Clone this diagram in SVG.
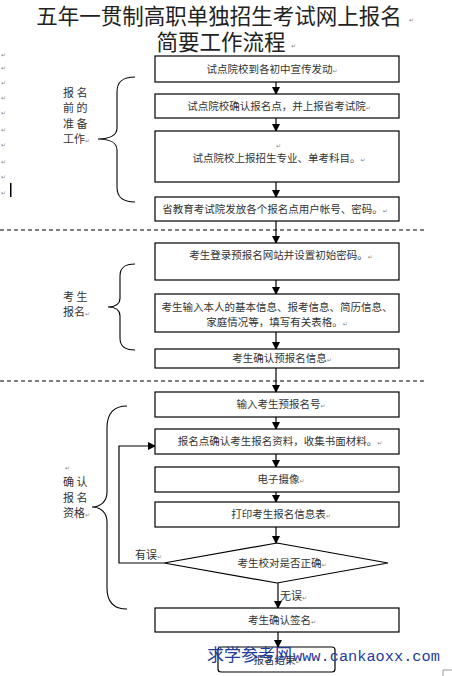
<svg xmlns="http://www.w3.org/2000/svg" width="452" height="676" viewBox="0 0 452 676">
<defs>
<marker id="ah" markerWidth="8" markerHeight="8" refX="7" refY="4" orient="auto" markerUnits="userSpaceOnUse">
<path d="M0,0 L8,4 L0,8 Z" fill="#000"/>
</marker>
<style>
.bx{fill:#fff;stroke:#000;stroke-width:1.2}
.t{font-family:"Noto Sans CJK SC","Noto Sans",sans-serif;font-size:10.5px;fill:#333;text-anchor:middle}
.lb{font-family:"Noto Sans CJK SC","Noto Sans",sans-serif;font-size:11px;fill:#333}
.pm{font-family:"DejaVu Sans",sans-serif;font-size:6px;fill:#888}
.ttl{font-family:"Noto Sans CJK SC","Noto Sans",sans-serif;font-size:21.5px;fill:#222;text-anchor:middle}
.ln{stroke:#000;stroke-width:1.2;fill:none}
.br{stroke:#000;stroke-width:1.1;fill:none}
.dash{stroke:#000;stroke-width:1;stroke-dasharray:4,3}
</style>
</defs>
<rect width="452" height="676" fill="#fff"/>

<g id="title">
<text class="ttl" x="219" y="24">五年一贯制高职单独招生考试网上报名</text>
<text class="pm" x="409" y="22" font-size="8px">↵</text>
<text class="ttl" x="221" y="50">简要工作流程</text>
<text class="pm" x="291" y="48" font-size="8px">↵</text>
</g>

<g id="margin-marks">
<text class="pm" x="1" y="57">↵</text>
<text class="pm" x="1" y="70">↵</text>
<text class="pm" x="1" y="85">↵</text>
<text class="pm" x="1" y="100">↵</text>
<text class="pm" x="1" y="115">↵</text>
<text class="pm" x="1" y="132">↵</text>
<text class="pm" x="1" y="147">↵</text>
<text class="pm" x="1" y="164">↵</text>
<text class="pm" x="1" y="179">↵</text>
<text class="pm" x="1" y="195">↵</text>
<rect x="10" y="183" width="1.5" height="14" fill="#000"/>
<path d="M443,676 L443,670 L452,670" stroke="#999" stroke-width="1" fill="none"/>
</g>

<g id="dividers">
<line class="dash" x1="0" y1="230" x2="427" y2="230"/>
<line class="dash" x1="0" y1="381" x2="427" y2="381"/>
</g>

<g id="braces">
<path class="br" d="M135,77 C122,77 117,82 117,92 L117,128 C117,135 110,139 98,139 C110,139 117,143 117,150 L117,187 C117,197 122,202 135,202"/>
<path class="br" d="M135,264 C124,264 120,268 120,276 L120,298 C120,304 115,307 108,307 C115,307 120,310 120,316 L120,338 C120,346 124,350 135,350"/>
<path class="br" d="M127,406 C113,406 107,414 107,428 L107,492 C107,501 101,507 92,507 C101,507 107,513 107,522 L107,588 C107,602 113,609 127,609"/>
</g>

<g id="side-labels">
<text class="lb" x="63" y="97">报 名</text>
<text class="lb" x="63" y="112">前 的</text>
<text class="lb" x="63" y="128">准 备</text>
<text class="lb" x="63" y="143">工作<tspan class="pm">↵</tspan></text>
<text class="lb" x="63" y="301">考 生</text>
<text class="lb" x="63" y="316">报名<tspan class="pm">↵</tspan></text>
<text class="pm" x="65" y="470">↵</text>
<text class="lb" x="63" y="486">确 认</text>
<text class="lb" x="63" y="502">报 名</text>
<text class="lb" x="63" y="517">资格<tspan class="pm">↵</tspan></text>
</g>

<g id="connectors">
<line class="ln" x1="276" y1="82" x2="276" y2="94" marker-end="url(#ah)"/>
<line class="ln" x1="276" y1="118" x2="276" y2="131" marker-end="url(#ah)"/>
<line class="ln" x1="276" y1="182" x2="276" y2="197" marker-end="url(#ah)"/>
<line class="ln" x1="276" y1="221" x2="276" y2="243" marker-end="url(#ah)"/>
<line class="ln" x1="276" y1="280" x2="276" y2="294" marker-end="url(#ah)"/>
<line class="ln" x1="276" y1="332" x2="276" y2="349" marker-end="url(#ah)"/>
<line class="ln" x1="276" y1="368" x2="276" y2="392" marker-end="url(#ah)"/>
<line class="ln" x1="276" y1="417" x2="276" y2="429" marker-end="url(#ah)"/>
<line class="ln" x1="276" y1="454" x2="276" y2="467" marker-end="url(#ah)"/>
<line class="ln" x1="276" y1="492" x2="276" y2="502" marker-end="url(#ah)"/>
<line class="ln" x1="276" y1="527" x2="276" y2="543" marker-end="url(#ah)"/>
<line class="ln" x1="278" y1="583" x2="278" y2="608" marker-end="url(#ah)"/>
<line class="ln" x1="278" y1="632" x2="278" y2="647" marker-end="url(#ah)"/>
<polyline class="ln" points="164,563 119,563 119,446 155,446" marker-end="url(#ah)"/>
<text class="lb" x="135" y="559">有误<tspan class="pm">↵</tspan></text>
<text class="lb" x="280" y="600">无误<tspan class="pm">↵</tspan></text>
</g>

<g id="n1"><rect class="bx" x="155" y="56" width="244" height="26"/><text class="t" x="272" y="73">试点院校到各初中宣传发动<tspan class="pm">↵</tspan></text></g>
<g id="n2"><rect class="bx" x="155" y="94" width="244" height="24"/><text class="t" x="279" y="110">试点院校确认报名点，并上报省考试院<tspan class="pm">↵</tspan></text></g>
<g id="n3"><rect class="bx" x="155" y="131" width="244" height="51"/><text class="pm" x="276" y="148">↵</text><text class="t" x="279" y="162">试点院校上报招生专业、单考科目。<tspan class="pm">↵</tspan></text></g>
<g id="n4"><rect class="bx" x="155" y="197" width="244" height="24"/><text class="t" x="275" y="213">省教育考试院发放各个报名点用户帐号、密码。<tspan class="pm">↵</tspan></text></g>
<g id="n5"><rect class="bx" x="155" y="243" width="244" height="37"/><text class="t" x="281" y="259">考生登录预报名网站并设置初始密码。<tspan class="pm">↵</tspan></text></g>
<g id="n6"><rect class="bx" x="155" y="294" width="244" height="38"/><text class="t" x="277" y="311">考生输入本人的基本信息、报考信息、简历信息、</text><text class="t" x="277" y="326">家庭情况等，填写有关表格。<tspan class="pm">↵</tspan></text></g>
<g id="n7"><rect class="bx" x="155" y="349" width="244" height="19"/><text class="t" x="282" y="362">考生确认预报名信息<tspan class="pm">↵</tspan></text></g>
<g id="n8"><rect class="bx" x="155" y="392" width="244" height="25"/><text class="t" x="281" y="408">输入考生预报名号<tspan class="pm">↵</tspan></text></g>
<g id="n9"><rect class="bx" x="155" y="429" width="244" height="25"/><text class="t" x="280" y="445">报名点确认考生报名资料，收集书面材料。<tspan class="pm">↵</tspan></text></g>
<g id="n10"><rect class="bx" x="155" y="467" width="244" height="25"/><text class="t" x="281" y="483">电子摄像<tspan class="pm">↵</tspan></text></g>
<g id="n11"><rect class="bx" x="155" y="502" width="244" height="25"/><text class="t" x="281" y="518">打印考生报名信息表<tspan class="pm">↵</tspan></text></g>
<g id="n12"><polygon class="bx" points="277,543 388,563 277,583 164,563"/><text class="t" x="282" y="567">考生校对是否正确<tspan class="pm">↵</tspan></text></g>
<g id="n13"><rect class="bx" x="155" y="608" width="244" height="24"/><text class="t" x="282" y="624">考生确认签名<tspan class="pm">↵</tspan></text></g>
<g id="n14"><rect class="bx" x="218" y="647" width="117" height="25" rx="3" stroke="#444"/><text class="t" x="277" y="664">报名结束<tspan class="pm">↵</tspan></text></g>

<g id="watermark">
<text x="207" y="661" font-family="Noto Sans CJK SC,sans-serif" font-size="17px" fill="#1f3c9c">求学参考网</text>
<text x="293" y="661" font-family="Liberation Mono,monospace" font-size="15.3px" fill="#1f3c9c">www.cankaoxx.com</text>
</g>
</svg>
